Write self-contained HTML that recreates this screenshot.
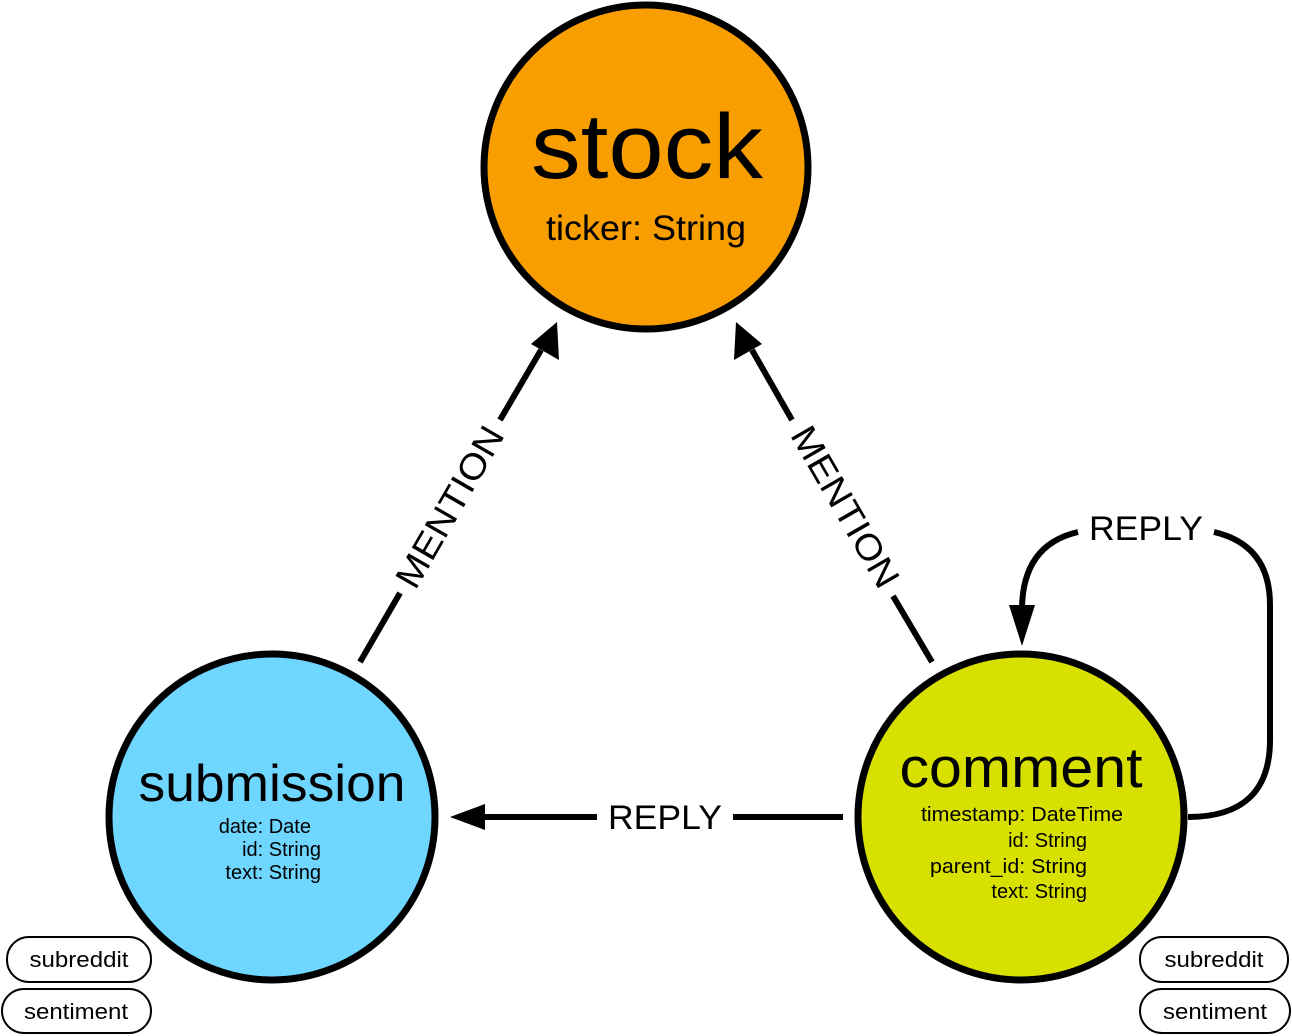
<!DOCTYPE html>
<html><head><meta charset="utf-8"><style>
html,body{margin:0;padding:0;background:#fff;}
svg{display:block;font-family:"Liberation Sans",Arial,sans-serif;}
</style></head><body>
<svg width="1292" height="1036" viewBox="0 0 1292 1036" xmlns="http://www.w3.org/2000/svg">
<g stroke="#000" stroke-width="6" fill="none">
<line x1="360" y1="662" x2="400" y2="593"/>
<line x1="500" y1="420" x2="541" y2="350"/>
<line x1="932" y1="662" x2="893" y2="596"/>
<line x1="792" y1="420" x2="752" y2="350"/>
<line x1="843" y1="817" x2="733" y2="817"/>
<line x1="597" y1="817" x2="480" y2="817"/>
<path d="M1188 817 Q1270 817 1270 740 L1270 605 Q1270 545 1214 532"/>
<path d="M1078 532 Q1022 545 1022 610 L1022 615"/>
</g>
<g fill="#000">
<polygon points="557,322 559,360 531,344"/>
<polygon points="736,322 762,344 734,360"/>
<polygon points="450,817 485,804 485,830"/>
<polygon points="1022,646 1009,605 1035,605"/>
</g>
<circle cx="646" cy="167" r="162" fill="#F99E00" stroke="#000" stroke-width="7"/>
<circle cx="272" cy="817" r="163" fill="#6FD6FF" stroke="#000" stroke-width="7"/>
<circle cx="1021" cy="817" r="163" fill="#D8E000" stroke="#000" stroke-width="7"/>
<g fill="#000" text-anchor="middle">
<text x="647" y="178" font-size="92" textLength="232" lengthAdjust="spacingAndGlyphs">stock</text>
<text x="646" y="240" font-size="35" textLength="200" lengthAdjust="spacingAndGlyphs">ticker: String</text>
<text x="272" y="801" font-size="52" textLength="267" lengthAdjust="spacingAndGlyphs">submission</text>
<text x="1021" y="787" font-size="57" textLength="243" lengthAdjust="spacingAndGlyphs">comment</text>
<text x="665" y="829" font-size="34" textLength="114" lengthAdjust="spacingAndGlyphs">REPLY</text>
<text x="1146" y="540" font-size="34" textLength="114" lengthAdjust="spacingAndGlyphs">REPLY</text>
<text x="0" y="0" font-size="36" textLength="180" lengthAdjust="spacingAndGlyphs" transform="translate(450,507) rotate(-60) translate(0,12)">MENTION</text>
<text x="0" y="0" font-size="36" textLength="180" lengthAdjust="spacingAndGlyphs" transform="translate(845,507) rotate(60) translate(0,12)">MENTION</text>
</g>
<g fill="#000" text-anchor="end" font-size="20">
<text x="311" y="833">date: Date</text>
<text x="321" y="856">id: String</text>
<text x="321" y="879">text: String</text>
<text x="1123" y="821" textLength="202" lengthAdjust="spacingAndGlyphs">timestamp: DateTime</text>
<text x="1087" y="847">id: String</text>
<text x="1087" y="873" textLength="157" lengthAdjust="spacingAndGlyphs">parent_id: String</text>
<text x="1087" y="898">text: String</text>
</g>
<g stroke="#000" stroke-width="2" fill="#fff">
<rect x="7" y="937" width="144" height="45" rx="22"/>
<rect x="2" y="989" width="149" height="44" rx="22"/>
<rect x="1140" y="937" width="148" height="45" rx="22"/>
<rect x="1140" y="989" width="150" height="44" rx="22"/>
</g>
<g fill="#000" text-anchor="middle" font-size="22">
<text x="79" y="967" textLength="99" lengthAdjust="spacingAndGlyphs">subreddit</text>
<text x="76" y="1019" textLength="104" lengthAdjust="spacingAndGlyphs">sentiment</text>
<text x="1214" y="967" textLength="99" lengthAdjust="spacingAndGlyphs">subreddit</text>
<text x="1215" y="1019" textLength="104" lengthAdjust="spacingAndGlyphs">sentiment</text>
</g>
</svg>
</body></html>
